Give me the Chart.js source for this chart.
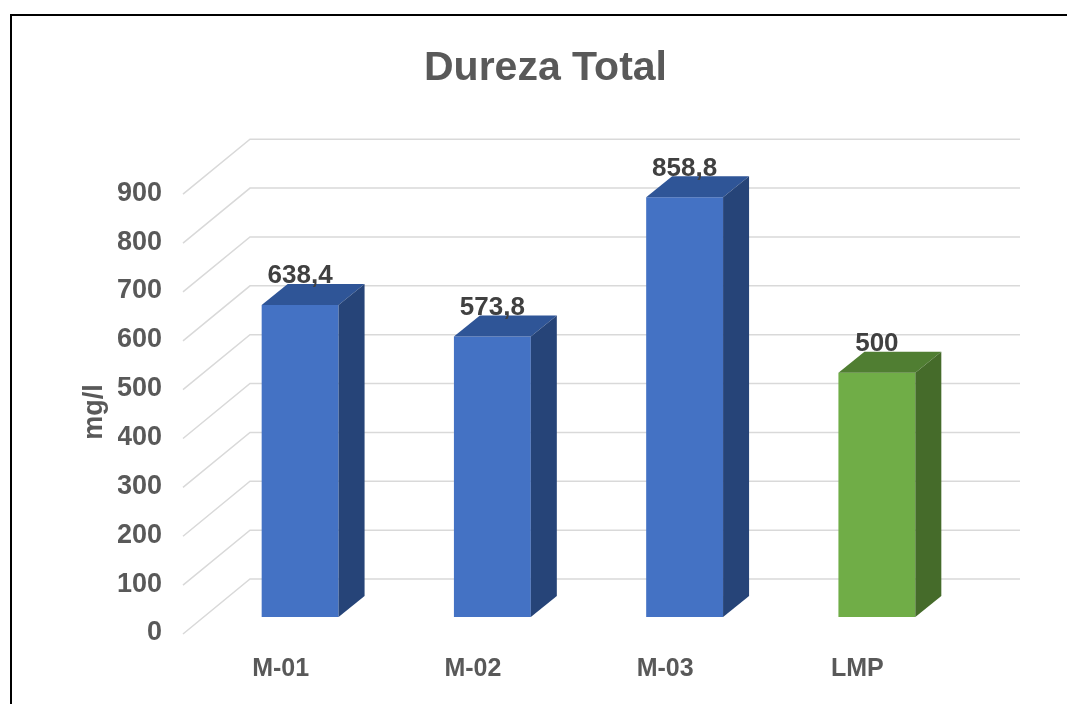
<!DOCTYPE html>
<html>
<head>
<meta charset="utf-8">
<script src="https://cdn.jsdelivr.net/npm/chart.js@4"></script>
<style>
  body { margin: 0; background: #fff; }
  #marco { position: absolute; left: 10px; top: 14px; width: 1100px; height: 800px;
           border-left: 2px solid #000; border-top: 2px solid #000; }
  #grafico { position: absolute; left: 0; top: 0; }
</style>
</head>
<body>
<div id="marco"></div>
<canvas id="grafico" width="1067" height="704"></canvas>
<script>
// Datos
const muestras = ["M-01", "M-02", "M-03", "LMP"];
const dureza = [638.4, 573.8, 858.8, 500];
const ticksY = [0, 100, 200, 300, 400, 500, 600, 700, 800, 900];

// Colores (frente, tapa, costado)
const colorFrente = ["#4472C4", "#4472C4", "#4472C4", "#70AD47"];
const colorTapa = ["#2F5597", "#2F5597", "#2F5597", "#507E32"];
const colorCostado = ["#264478", "#264478", "#264478", "#456B2A"];

const fuente = "'Liberation Sans', Arial, sans-serif";
Chart.defaults.font.family = fuente;

// Profundidad de las barras y del piso
const PROF_X = 26, PROF_Y = 21;

const efecto3D = {
    id: "efecto3D",
    beforeDatasetsDraw(chart){
        const {ctx, chartArea, scales:{y}} = chart;
        ctx.save();
        ctx.strokeStyle = "#D9D9D9";
        ctx.lineWidth = 1.5;
        ticksY.forEach(v=>{
            const py = y.getPixelForValue(v);
            ctx.beginPath();
            ctx.moveTo(chartArea.left - 21, py + 17);
            ctx.lineTo(chartArea.left + 46, py - 38);
            ctx.lineTo(chartArea.right + 47, py - 38);
            ctx.stroke();
        });
        // titulo eje Y
        ctx.fillStyle = "#595959";
        ctx.font = "bold 27px " + fuente;
        ctx.textAlign = "center";
        ctx.textBaseline = "middle";
        ctx.translate(95, 412);
        ctx.rotate(-Math.PI/2);
        ctx.fillText("mg/l", 0, 0);
        ctx.restore();
    },
    afterDatasetsDraw(chart){
        const {ctx} = chart;
        const meta = chart.getDatasetMeta(0);
        ctx.save();
        meta.data.forEach((barra, i)=>{
            const {x, y, base, width} = barra.getProps(["x","y","base","width"], true);
            const x0 = x - width/2, x1 = x + width/2;
            // tapa
            ctx.fillStyle = colorTapa[i];
            ctx.beginPath();
            ctx.moveTo(x0, y);
            ctx.lineTo(x1, y);
            ctx.lineTo(x1 + PROF_X, y - PROF_Y);
            ctx.lineTo(x0 + PROF_X, y - PROF_Y);
            ctx.closePath();
            ctx.fill();
            // costado
            ctx.fillStyle = colorCostado[i];
            ctx.beginPath();
            ctx.moveTo(x1, y);
            ctx.lineTo(x1 + PROF_X, y - PROF_Y);
            ctx.lineTo(x1 + PROF_X, base - PROF_Y);
            ctx.lineTo(x1, base);
            ctx.closePath();
            ctx.fill();
            // etiqueta de valor
            ctx.fillStyle = "#404040";
            ctx.font = "bold 26px " + fuente;
            ctx.textAlign = "center";
            ctx.textBaseline = "middle";
            ctx.fillText(String(dureza[i]).replace(".", ","), x, y - 29);
        });
        ctx.restore();
    }
};

new Chart(document.getElementById("grafico"), {
    type: "bar",
    data: {
        labels: muestras,
        datasets: [{
            label: "Dureza Total",
            data: dureza,
            backgroundColor: colorFrente,
            borderWidth: 0,
            barPercentage: 0.4,
            categoryPercentage: 1
        }]
    },
    options: {
        responsive: false,
        animation: false,
        layout: { padding: { left: 118, right: 94, top: 0, bottom: 0 } },
        plugins: {
            legend: { display: false },
            tooltip: { enabled: false },
            title: {
                display: true,
                text: "Dureza Total",
                color: "#595959",
                font: { size: 41, weight: "bold" },
                padding: { top: 44, bottom: 84 }
            }
        },
        scales: {
            x: {
                grid: { display: false, drawTicks: false },
                border: { display: false },
                ticks: { color: "#595959", font: { size: 25, weight: "bold" }, padding: 37, labelOffset: -19.5 },
                afterFit: s => { s.height = 87; }
            },
            y: {
                min: 0,
                max: 900,
                grid: { display: false, drawTicks: false },
                border: { display: false },
                ticks: { stepSize: 100, color: "#595959", font: { size: 27, weight: "bold" }, padding: 42, labelOffset: 16 },
                afterFit: s => { s.width = 86; }
            }
        }
    },
    plugins: [efecto3D]
});
</script>
</body>
</html>
